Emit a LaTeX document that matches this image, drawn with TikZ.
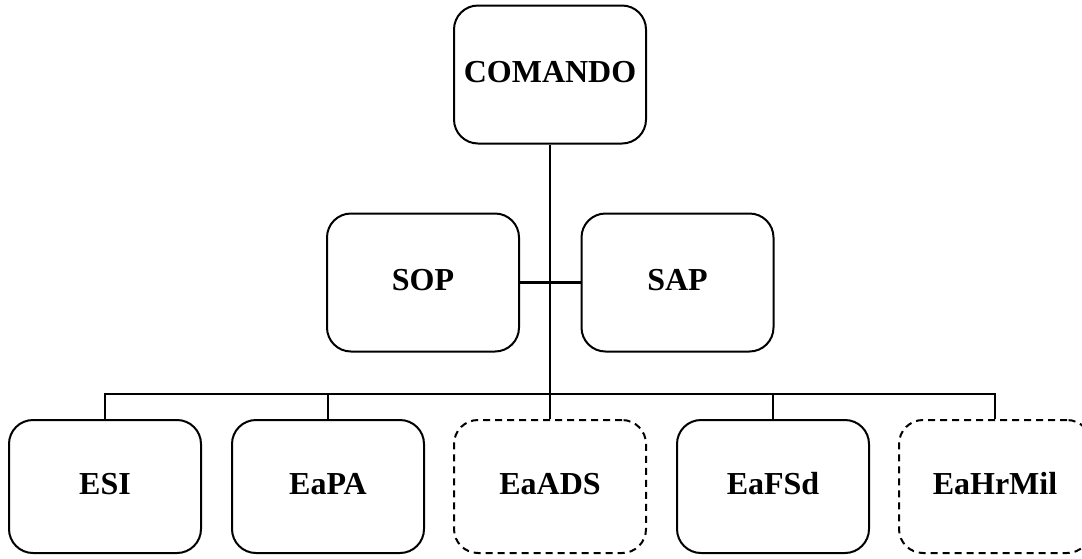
\documentclass[tikz,border=0pt]{standalone}
\usepackage{fontspec}
\setmainfont{Liberation Serif}
\begin{document}
\begin{tikzpicture}[x=1pt,y=-1pt,
  box/.style={draw=black,line width=2pt,rounded corners=24pt,minimum width=192pt,minimum height=138pt,inner sep=0pt,text height=22pt,text depth=7pt,font=\fontsize{32}{36}\selectfont\bfseries},
  lowbox/.style={box,minimum height=133pt},
  dbox/.style={lowbox,dash pattern=on 7pt off 5pt},
  conn/.style={line width=2.4pt}]
\useasboundingbox (0,0) rectangle (1082,558);
\node[box] (com) at (550,74.5) {COMANDO};
\node[box] (sop) at (423,282.5) {SOP};
\node[box] (sap) at (677.5,282.5) {SAP};
\node[lowbox] (esi) at (105,486.5) {ESI};
\node[lowbox] (eapa) at (328,486.5) {EaPA};
\node[dbox] (eaads) at (550,486.5) {EaADS};
\node[lowbox] (eafsd) at (773,486.5) {EaFSd};
\node[dbox] (eahr) at (995,486.5) {EaHrMil};
\coordinate (bus) at (550,394);
\draw[conn] (com.south) -- (bus);
\draw[conn] (sop.east) -- (sap.west);
\draw[conn] (esi.north) |- (bus) -| (eahr.north);
\draw[conn] (eapa.north) -- (eapa.north |- bus);
\draw[conn] (eaads.north) -- (bus);
\draw[conn] (eafsd.north) -- (eafsd.north |- bus);
\end{tikzpicture}
\end{document}
